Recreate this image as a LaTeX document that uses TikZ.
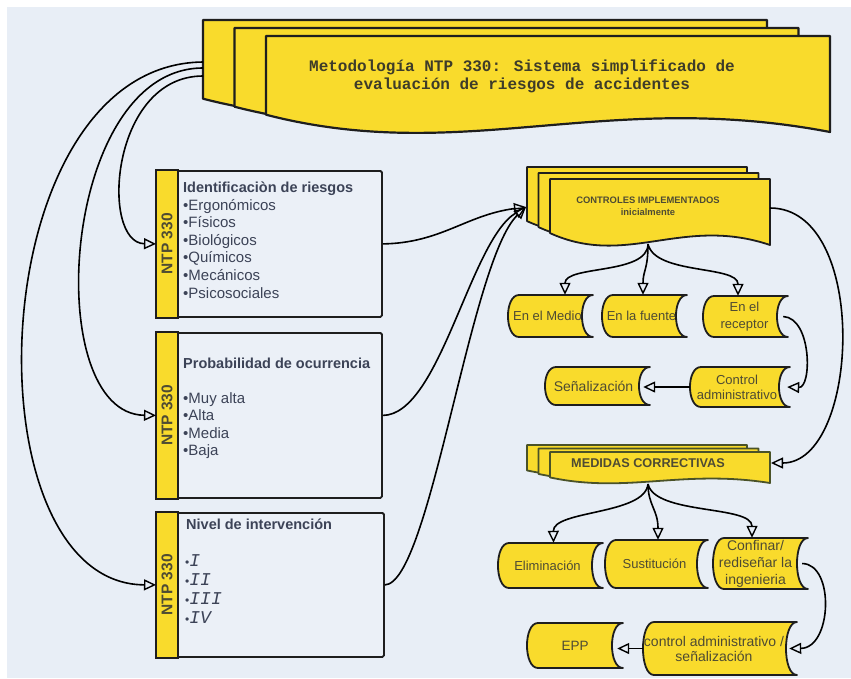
\documentclass[tikz,border=0pt]{standalone}
\usepackage{fontspec}
\setmainfont{Liberation Sans}
\newfontfamily\monof{Liberation Mono}
\usetikzlibrary{arrows.meta,calc}
\definecolor{bgc}{HTML}{E8EEF6}
\definecolor{boxbg}{HTML}{EBF0F7}
\definecolor{yel}{HTML}{F9DB2C}
\definecolor{txt}{HTML}{3C4357}
\definecolor{ytxt}{HTML}{4E4B33}
\definecolor{olv}{HTML}{4A5228}
\definecolor{edge}{HTML}{1E1E1E}
\newcommand{\fs}[2]{\fontsize{#1}{#2}\selectfont}
\tikzset{
  sheet/.style={fill=yel, draw=edge, line width=2.2pt, line join=round},
  sdbox/.style={fill=yel, draw=edge, line width=1.8pt, line join=round},
  sdshape/.style={inner sep=0pt, draw=none},
  sdtext/.style={inner sep=0pt, align=center, text=ytxt},
  conn/.style={draw=black, line width=1.6pt},
  arr/.style={conn, -{Triangle[open, length=12pt, width=11pt, line width=1.4pt]}},
  lbox/.style={draw=edge, fill=boxbg, line width=1.8pt, rounded corners=1.5pt, anchor=north west, inner sep=0pt},
  stripbox/.style={draw=edge, fill=yel, line width=1.8pt},
  ntp/.style={font=\fs{15.5}{16}\bfseries, text=ytxt, inner sep=0pt, rotate=90},
  lhead/.style={font=\fs{14.5}{16}\bfseries, text=txt, inner sep=0pt, anchor=base west},
  litem/.style={font=\fs{15}{16}, text=txt, inner sep=0pt, anchor=base west},
}
% one sheet of a multi-document shape: L T w H style
\newcommand{\docsheet}[5]{%
  \pgfmathsetmacro\dR{#1+#3}%
  \pgfmathsetmacro\dB{#2+#4}%
  \pgfmathsetmacro\dLB{#2+0.82*#4}%
  \pgfmathsetmacro\cax{#1+0.6*#3}%
  \pgfmathsetmacro\cay{#2+#4-0.45*#4}%
  \pgfmathsetmacro\cbx{#1+0.35*#3}%
  \pgfmathsetmacro\cby{#2+#4+0.35*#4}%
  \draw[#5] (#1,#2) -- (\dR,#2) -- (\dR,\dB) .. controls (\cax,\cay) and (\cbx,\cby) .. (#1,\dLB) -- cycle;
}
% L T w H dx dy style
\newcommand{\multidoc}[7]{%
  \pgfmathsetmacro\mLa{#1-2*#5}\pgfmathsetmacro\mTa{#2-2*#6}%
  \pgfmathsetmacro\mLb{#1-#5}\pgfmathsetmacro\mTb{#2-#6}%
  \docsheet{\mLa}{\mTa}{#3}{#4}{#7}%
  \docsheet{\mLb}{\mTb}{#3}{#4}{#7}%
  \docsheet{#1}{#2}{#3}{#4}{#7}%
}
% stored-data box: name L T R B size skip textshift text
\newcommand{\sdnode}[9]{%
  \pgfmathsetmacro\sL{#2+11}%
  \pgfmathsetmacro\sk{#2+11-14.7}%
  \pgfmathsetmacro\sr{#4-14.7}%
  \pgfmathsetmacro\sw{#4-#2}%
  \pgfmathsetmacro\sh{#5-#3}%
  \pgfmathsetmacro\scx{(#2+#4)/2}%
  \pgfmathsetmacro\scy{(#3+#5)/2}%
  \draw[sdbox] (\sL,#3) -- (#4,#3) .. controls (\sr,#3) and (\sr,#5) .. (#4,#5) -- (\sL,#5) .. controls (\sk,#5) and (\sk,#3) .. (\sL,#3) -- cycle;
  \node[sdshape, minimum width=\sw pt, minimum height=\sh pt] (#1) at (\scx,\scy) {};
  \node[sdtext, font=\fs{#6}{#7}] (#1-t) at ($(#1.center)+(#8,0)$) {#9};
}
\begin{document}
\begin{tikzpicture}[x=1pt, y=-1pt]
\useasboundingbox (0,0) rectangle (851,678);
\fill[white] (0,0) rectangle (851,678);
\fill[bgc] (7,7) rectangle (851,678);

% ---------- title ----------
\multidoc{266}{36}{564}{96}{31.5}{8}{sheet}
\node[align=center, inner sep=0pt, text=ytxt!80!black, font=\monof\bfseries\fs{16}{18}] (title) at (522,76)
  {Metodología NTP 330: Sistema simplificado de\\evaluación de riesgos de accidentes};
\coordinate (tA) at (203,62);
\coordinate (tB) at (203,68);
\coordinate (tC) at (203,76);

% ---------- left boxes ----------
\node[lbox, minimum width=225pt, minimum height=146pt] (b1) at (156,170) {};
\draw[stripbox] (b1.north west) rectangle ($(b1.south west)+(22,0)$);
\node[ntp] (b1n) at ($(b1.west)+(11,0)$) {NTP 330};
\node[lhead] (b1h) at (183,192) {Identificaciòn de riesgos};
\foreach \t [count=\i] in {Ergonómicos,Físicos,Biológicos,Químicos,Mecánicos,Psicosociales}
  \node[litem] (b1i\i) at (183,{210+(\i-1)*17.6}) {•\t};

\node[lbox, minimum width=225pt, minimum height=165pt] (b2) at (156,332) {};
\draw[stripbox] (b2.north west) rectangle ($(b2.south west)+(22,0)$);
\node[ntp] (b2n) at ($(b2.west)+(11,0)$) {NTP 330};
\node[lhead] (b2h) at (183,368) {Probabilidad de ocurrencia};
\foreach \t [count=\i] in {Muy alta,Alta,Media,Baja}
  \node[litem] (b2i\i) at (183,{403+(\i-1)*17.6}) {•\t};

\node[lbox, minimum width=227pt, minimum height=144pt] (b3) at (156,512) {};
\draw[stripbox] (b3.north west) rectangle ($(b3.south west)+(22,0)$);
\node[ntp] (b3n) at ($(b3.west)+(11,0)$) {NTP 330};
\node[lhead] (b3h) at (186,529) {Nivel de intervención};
\foreach \t [count=\i] in {I,II,III,IV}
  \node[litem] (b3i\i) at (185,{566+(\i-1)*19}) {{\fs{12}{12}•}{\monof\itshape\fs{18}{18}\t}};

% ---------- CONTROLES ----------
\multidoc{550}{179}{220}{66}{11.5}{6}{sheet, line width=1.8pt}
\node[align=center, inner sep=0pt, text=ytxt, font=\fs{9.4}{12}\bfseries] (ctrl) at (648,206)
  {CONTROLES IMPLEMENTADOS\\inicialmente};
\coordinate (cIn) at (526,207);
\coordinate (cOut) at (770,208);
\coordinate (cDown) at (648,244);

\sdnode{medio}{508}{295}{593}{337}{13}{15}{-3}{En el Medio}
\sdnode{fuente}{602}{295}{687}{337}{13}{15}{-3}{En la fuente}
\sdnode{receptor}{703}{296}{788}{337}{13}{16.5}{-1}{En el\\receptor}
\sdnode{ctrladm}{690}{367}{790}{407}{13}{15}{-3}{Control\\administrativo}
\sdnode{senal}{545}{367}{650}{405}{14}{15}{-4}{Señalización}

% ---------- MEDIDAS ----------
\multidoc{550}{452}{220}{31}{11.5}{3.5}{sheet, draw=olv, line width=1.8pt}
\node[inner sep=0pt, text=ytxt, font=\fs{12.7}{14}\bfseries] (med) at (648,463) {MEDIDAS CORRECTIVAS};
\coordinate (mIn) at (771,463);
\coordinate (mDown) at (648,484);

\sdnode{elim}{498}{543}{603}{588}{13}{15}{-3}{Eliminación}
\sdnode{sust}{605}{540}{708}{588}{13}{15}{-2}{Sustitución}
\sdnode{conf}{713}{538}{808}{589}{14}{17}{-5}{Confinar/\\rediseñar la\\ingenieria}
\sdnode{ctrlb}{643}{622}{797}{675}{14}{15}{-6}{control administrativo /\\señalización}
\sdnode{epp}{527}{623}{623}{668}{13.5}{15}{0}{EPP}

% ---------- connectors ----------
\draw[arr] (tC) .. controls (110,76) and (100,243) .. (b1.west);
\draw[arr] (tB) .. controls (60,68) and (40,414) .. (b2.west);
\draw[arr] (tA) .. controls (-20,64) and (-35,584) .. (b3.west);

\draw[arr] (b1.east) .. controls (441,243) and (466,215) .. (cIn);
\draw[arr] (b2.east) .. controls (440,415) and (470,240) .. (cIn);
\draw[arr] (b3.east) .. controls (430,584) and (470,260) .. (cIn);

\draw[arr] (cDown) .. controls (648,275) and (565,265) .. ($(medio.north)+(14.5,0)$);
\draw[arr] (cDown) .. controls (648,270) and (643,270) .. ($(fuente.north)+(-1.5,0)$);
\draw[arr] (cDown) .. controls (655,275) and (738,265) .. ($(receptor.north)+(-7.5,0)$);
\draw[arr] ($(receptor.east)+(-5,0)$) .. controls (812,318) and (812,388) .. ($(ctrladm.east)+(-3,0)$);
\draw[arr] (ctrladm.west) -- ($(ctrladm.west -| senal.east)+(-7,0)$);

\draw[arr] (cOut) .. controls (870,208) and (860,463) .. (mIn);

\draw[arr] (mDown) .. controls (645,515) and (553,510) .. ($(elim.north)+(3,0)$);
\draw[arr] (mDown) .. controls (648,505) and (658,510) .. ($(sust.north)+(1.5,0)$);
\draw[arr] (mDown) .. controls (655,515) and (752,505) .. ($(conf.north)+(-8.5,0)$);
\draw[arr] ($(conf.east)+(-6,0)$) .. controls (835,564) and (832,648) .. ($(ctrlb.east)+(-8,0)$);
\draw[arr] (ctrlb.west) -- ($(ctrlb.west -| epp.east)+(-6,0)$);
\end{tikzpicture}
\end{document}
